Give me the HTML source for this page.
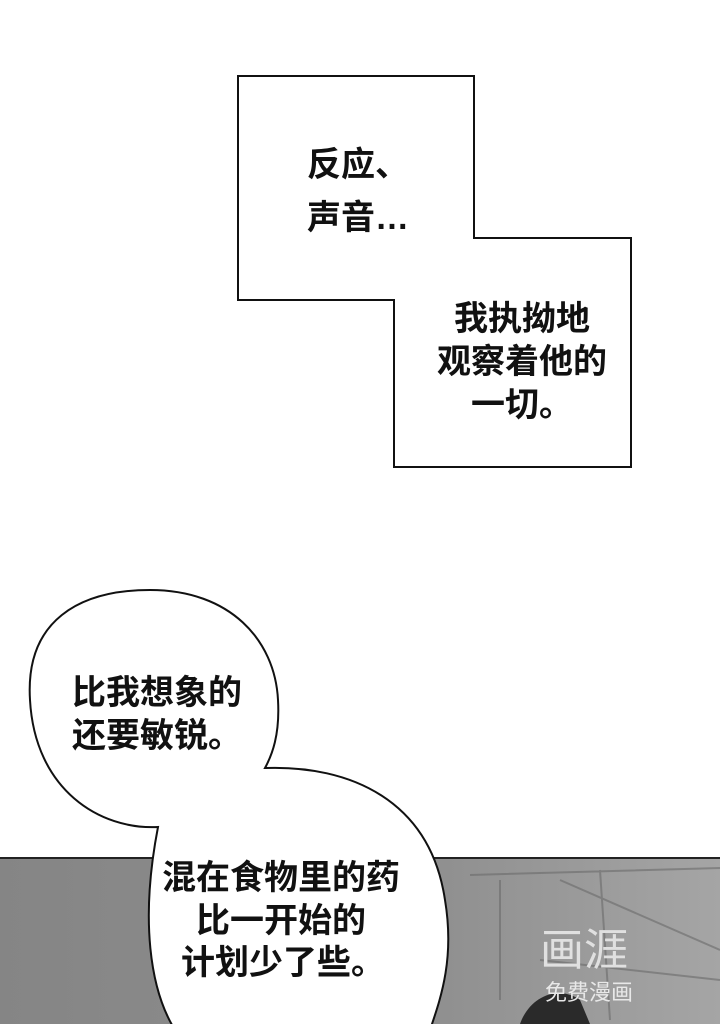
<!DOCTYPE html>
<html><head><meta charset="utf-8"><style>
body{margin:0;width:720px;height:1024px;overflow:hidden;background:#fff;position:relative;font-family:"Liberation Sans","Noto Sans CJK SC",sans-serif;}
.t{position:absolute;font-size:34px;font-weight:bold;color:#111;line-height:43px;white-space:nowrap;}
</style></head><body>
<svg width="720" height="1024" style="position:absolute;left:0;top:0">
<defs><linearGradient id="g" x1="0" x2="1"><stop offset="0" stop-color="#858585"/><stop offset="0.6" stop-color="#8f8f8f"/><stop offset="1" stop-color="#a5a5a5"/></linearGradient></defs>
<rect x="0" y="858" width="720" height="166" fill="url(#g)"/>
<line x1="0" y1="858" x2="720" y2="858" stroke="#222" stroke-width="2"/>
<g fill="none" stroke="#6a6a6a" stroke-width="2" opacity="0.6">
<path d="M470,875 L720,868 M500,880 L500,1000 M540,960 L720,980 M560,880 L720,950 M600,870 L610,1020"/>
</g>
<path d="M520,1024 C530,995 560,985 580,1000 L590,1024 Z" fill="#2a2a2a"/>
<text x="545" y="1000" font-size="22" fill="#e8e8e8" font-family="Liberation Sans, Noto Sans CJK SC, sans-serif">免费漫画</text>
<text x="540" y="965" font-size="44" fill="#e0e0e0" font-family="Liberation Sans, Noto Sans CJK SC, sans-serif">画涯</text>
<polygon points="238,76 474,76 474,238 631,238 631,467 394,467 394,300 238,300" fill="#fff" stroke="#111" stroke-width="2"/>
<path d="M158,827 C100,830 35,790 30,700 C25,620 80,590 150,590 C230,590 275,640 278,700 C280,735 272,755 265,768 C350,765 430,800 445,900 C455,960 440,1000 430,1030 L175,1030 C150,990 140,920 158,827 Z" fill="#fff" stroke="#111" stroke-width="2"/>
</svg>
<div class="t" style="left:307px;top:139px;line-height:53px">反应、<br>声音…</div>
<div class="t" style="left:422px;top:298px;text-align:center;width:200px;line-height:43px">我执拗地<br>观察着他的<br>一切。</div>
<div class="t" style="left:72px;top:672px;">比我想象的<br>还要敏锐。</div>
<div class="t" style="left:162px;top:857px;">混在食物里的药</div>
<div class="t" style="left:196px;top:900px;">比一开始的</div>
<div class="t" style="left:181px;top:942px;">计划少了些。</div>
</body></html>
